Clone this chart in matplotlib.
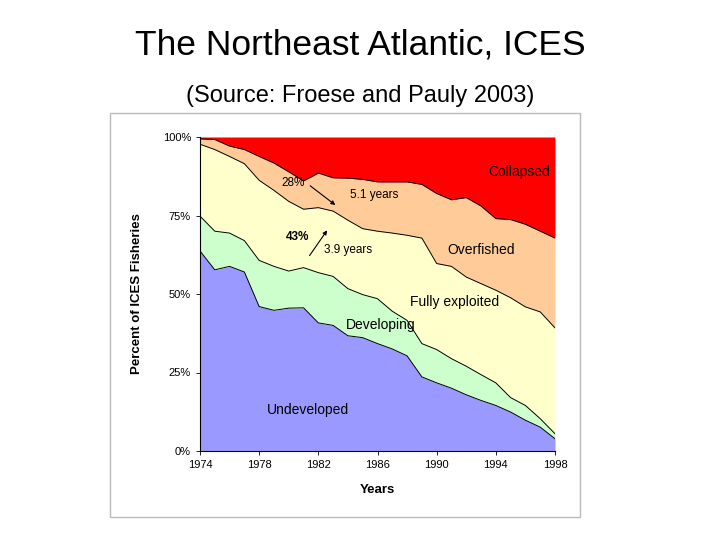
import matplotlib
matplotlib.use("Agg")
import matplotlib.pyplot as plt
from matplotlib.patches import Rectangle
import numpy as np

plt.rcParams['font.family'] = ['Liberation Sans', 'DejaVu Sans']

years = list(range(1974, 1999))
undeveloped_top = [63.7,57.7,58.8,57.0,46.0,44.8,45.5,45.6,40.8,40.0,36.7,36.1,34.2,32.5,30.3,23.6,21.7,20.0,17.9,16.1,14.5,12.4,9.8,7.6,3.9]
developing_top = [74.8,70.0,69.4,67.0,60.7,58.8,57.3,58.4,56.8,55.6,51.7,49.8,48.5,44.5,41.6,34.2,32.3,29.4,27.0,24.3,21.7,17.0,14.5,10.3,5.5]
fully_top = [97.7,96.0,93.8,91.5,86.2,83.0,79.5,77.0,77.5,76.4,73.5,70.8,70.0,69.4,68.7,67.8,59.7,58.8,55.4,53.3,51.2,48.8,45.9,44.3,39.2]
overfished_top = [99.4,99.2,97.1,96.0,93.8,91.7,88.9,86.0,88.5,87.0,86.9,86.5,85.7,85.7,85.7,84.9,82.0,80.0,80.7,78.0,74.0,73.7,72.2,70.0,67.8]
collapsed_top = [100.0]*25
layers = [undeveloped_top, developing_top, fully_top, overfished_top, collapsed_top]
colors = ['#9999FF', '#CCFFCC', '#FFFFCC', '#FFCC99', '#FF0000']
xticks = [1974,1978,1982,1986,1990,1994,1998]
yticks = [0,25,50,75,100]
ytick_labels = ['0%','25%','50%','75%','100%']

fig = plt.figure(figsize=(7.2,5.4), dpi=100)
fig.patch.set_facecolor('white')
fig.text(0.5, 1-45/540, 'The Northeast Atlantic, ICES', ha='center', va='center', fontsize=25.5)
fig.text(0.5, 1-96/540, '(Source: Froese and Pauly 2003)', ha='center', va='center', fontsize=17)
fig.patches.append(Rectangle((110/720, 1-517/540), 470/720, 404/540, transform=fig.transFigure,
                             fill=False, edgecolor='#bbbbbb', lw=1))

ax = fig.add_axes([200/720, 1-451/540, 355/720, 314/540])
bottom = np.zeros(len(years))
for top, c in zip(layers, colors):
    t = np.array(top)
    ax.fill_between(years, bottom, t, color=c, lw=0)
    if c != '#FF0000':
        ax.plot(years, t, color='black', lw=0.7)
    bottom = t
ax.set_xlim(1974, 1998)
ax.set_ylim(0, 100)
ax.set_xticks(xticks)
ax.set_xticklabels([str(x) for x in xticks], fontsize=8)
ax.set_yticks(yticks)
ax.set_yticklabels(ytick_labels, fontsize=8)
ax.tick_params(length=3, width=0.6)
for s in ['top','right']:
    ax.spines[s].set_visible(False)
ax.set_xlabel('Years', fontsize=9.5, fontweight='bold', labelpad=10)
ax.set_ylabel('Percent of ICES Fisheries', fontsize=9.5, fontweight='bold', labelpad=14)

fs = 10
ax.text(1995.6, 89, 'Collapsed', ha='center', va='center', fontsize=fs)
ax.text(1993.0, 64, 'Overfished', ha='center', va='center', fontsize=fs)
ax.text(1991.2, 47.5, 'Fully exploited', ha='center', va='center', fontsize=fs)
ax.text(1986.2, 40, 'Developing', ha='center', va='center', fontsize=fs)
ax.text(1981.3, 13, 'Undeveloped', ha='center', va='center', fontsize=fs)
ax.text(1980.3, 85.5, '28%', ha='center', va='center', fontsize=8.5)
ax.text(1985.8, 81.5, '5.1 years', ha='center', va='center', fontsize=8.5)
ax.text(1980.6, 68, '43%', ha='center', va='center', fontsize=8.5, fontweight='bold')
ax.text(1984.0, 64, '3.9 years', ha='center', va='center', fontsize=8.5)
ax.annotate('', xy=(1983.3, 77.8), xytext=(1981.3, 85),
            arrowprops=dict(arrowstyle='-|>', lw=0.8, color='black', mutation_scale=6))
ax.annotate('', xy=(1982.7, 71), xytext=(1981.3, 61.5),
            arrowprops=dict(arrowstyle='-|>', lw=0.8, color='black', mutation_scale=6))

fig.savefig('out.png', dpi=100)
